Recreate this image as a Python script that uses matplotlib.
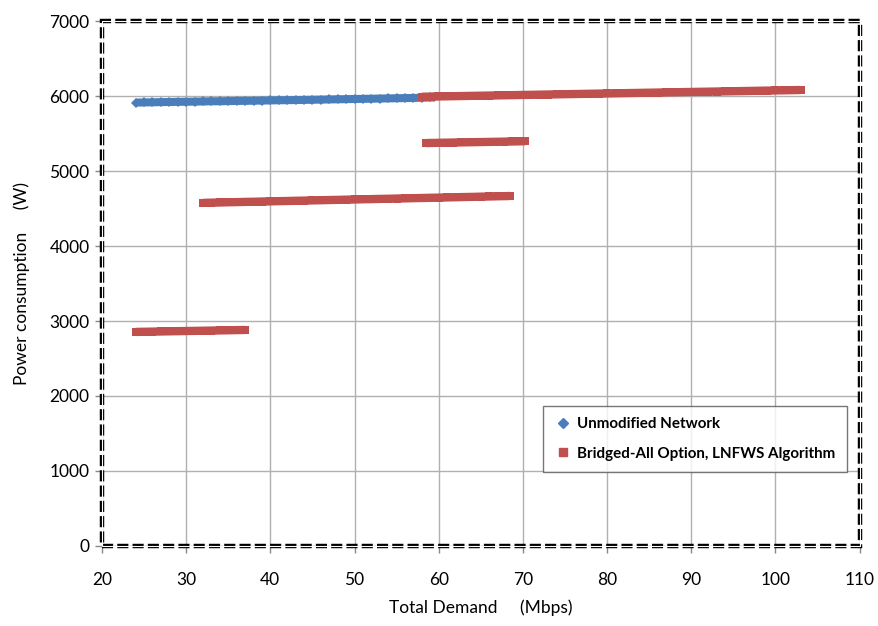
import matplotlib
matplotlib.use("Agg")
import matplotlib.pyplot as plt
from matplotlib.lines import Line2D
from matplotlib.patches import Rectangle

plt.rcParams['font.family'] = ['Lato', 'DejaVu Sans']
plt.rcParams['lines.scale_dashes'] = False

# Unmodified Network
blue_x = [24, 25, 26, 27, 28, 29, 30, 31, 32, 33, 34, 35, 36, 37, 38, 39, 40, 41, 42,
          43, 44, 45, 46, 47, 48, 49, 50, 51, 52, 53, 54, 55, 56, 57, 58, 59, 59.4]
blue_y = [5915, 5917, 5919, 5921, 5923, 5925, 5926, 5928, 5930, 5932, 5933, 5935, 5937,
          5939, 5940, 5942, 5944, 5946, 5947, 5949, 5951, 5953, 5955, 5957, 5959, 5961,
          5963, 5965, 5967, 5969, 5971, 5973, 5975, 5977, 5980, 5983, 5985]

# Bridged-All Option, LNFWS Algorithm (four branches)
red1_x = [24, 25, 26, 27, 28, 29, 30, 31, 32, 33, 34, 35, 36, 37]
red1_y = [2855, 2857, 2859, 2861, 2863, 2865, 2867, 2869, 2871, 2873, 2875, 2877, 2879, 2881]

red2_x = [32, 33, 34, 35, 36, 37, 38, 39, 40, 41, 42, 43, 44, 45, 46, 47, 48, 49, 50,
          51, 52, 53, 54, 55, 56, 57, 58, 59, 60, 61, 62, 63, 64, 65, 66, 67, 68, 68.5]
red2_y = [4577, 4580, 4582, 4585, 4587, 4590, 4592, 4595, 4597, 4600, 4602, 4605, 4607,
          4610, 4612, 4615, 4617, 4620, 4622, 4625, 4627, 4630, 4632, 4635, 4637, 4640,
          4642, 4645, 4647, 4650, 4652, 4655, 4657, 4660, 4662, 4665, 4667, 4669]

red3_x = [58.5, 59.7, 60.7, 61.7, 62.7, 63.7, 64.7, 65.7, 66.7, 67.7, 68.7, 69.7, 70.3]
red3_y = [5375, 5378, 5380, 5382, 5384, 5386, 5388, 5390, 5392, 5394, 5396, 5398, 5400]

red4_x = [58, 59, 60, 61, 62, 63, 64, 65, 66, 67, 68, 69, 70, 71, 72, 73, 74, 75, 76, 77,
          78, 79, 80, 81, 82, 83, 84, 85, 86, 87, 88, 89, 90, 91, 92, 93, 94, 95, 96, 97,
          98, 99, 100, 101, 102, 103]
red4_y = [5993, 5995, 5997, 5999, 6001, 6003, 6005, 6007, 6009, 6011, 6013, 6015, 6017,
          6019, 6021, 6023, 6025, 6027, 6029, 6031, 6033, 6035, 6037, 6039, 6041, 6043,
          6045, 6047, 6049, 6051, 6053, 6055, 6057, 6059, 6061, 6063, 6065, 6067, 6069,
          6071, 6073, 6075, 6077, 6079, 6081, 6083]

x_ticks = [20, 30, 40, 50, 60, 70, 80, 90, 100, 110]
y_ticks = [0, 1000, 2000, 3000, 4000, 5000, 6000, 7000]

BLUE = '#4a7ebb'
RED = '#c0504d'

fig = plt.figure(figsize=(8.79, 6.26), dpi=100)
ax = fig.add_axes([0.116, 0.128, 0.862, 0.838])

for xs, ys in [(red1_x, red1_y), (red2_x, red2_y), (red3_x, red3_y), (red4_x, red4_y)]:
    ax.plot(xs, ys, linestyle='-', color=RED, lw=6.0, marker='s', markersize=5.6,
            markeredgewidth=0, solid_capstyle='butt', zorder=3)
ax.plot(blue_x, blue_y, linestyle='-', color=BLUE, lw=5.8, marker='D', markersize=5.2,
        markeredgewidth=0, solid_capstyle='butt', zorder=2.5)

ax.set_xlim(20, 110)
ax.set_ylim(0, 7000)
ax.set_xticks(x_ticks)
ax.set_yticks(y_ticks)
ax.tick_params(axis='both', labelsize=12.5, direction='out', length=5, color='#888888',
               width=1)
ax.tick_params(axis='x', pad=14)
ax.tick_params(axis='y', pad=4)
ax.grid(True, color='#b0b0b0', lw=1)
ax.set_axisbelow(True)
for s in ax.spines.values():
    s.set_visible(False)

ax.set_xlabel('Total Demand     (Mbps)', fontsize=12.5, labelpad=8)
ax.set_ylabel('Power consumption     (W)', fontsize=12.5, labelpad=14)

# dashed plot-area border
rect = Rectangle((0, 0), 1, 1, transform=ax.transAxes, fill=False, edgecolor='black',
                 lw=3.2, linestyle=(0, (8, 3)), clip_on=False, zorder=5)
ax.add_patch(rect)
rect2 = Rectangle((0, 0), 1, 1, transform=ax.transAxes, fill=False, edgecolor='white',
                  lw=0.8, clip_on=False, zorder=6)
ax.add_patch(rect2)

handles = [Line2D([], [], color=BLUE, marker='D', linestyle='none', markersize=5),
           Line2D([], [], color=RED, marker='s', linestyle='none', markersize=6)]
leg = ax.legend(handles, ['Unmodified Network', 'Bridged-All Option, LNFWS Algorithm'],
                loc='lower left', bbox_to_anchor=(0.582, 0.141), fancybox=False,
                frameon=True, prop={'weight': 'bold', 'size': 10.9}, borderpad=0.75,
                labelspacing=1.0, handletextpad=0.3, handlelength=1.2, borderaxespad=0)
leg.get_frame().set_edgecolor('#555555')
leg.get_frame().set_linewidth(1)

fig.savefig('out.png', dpi=100)
